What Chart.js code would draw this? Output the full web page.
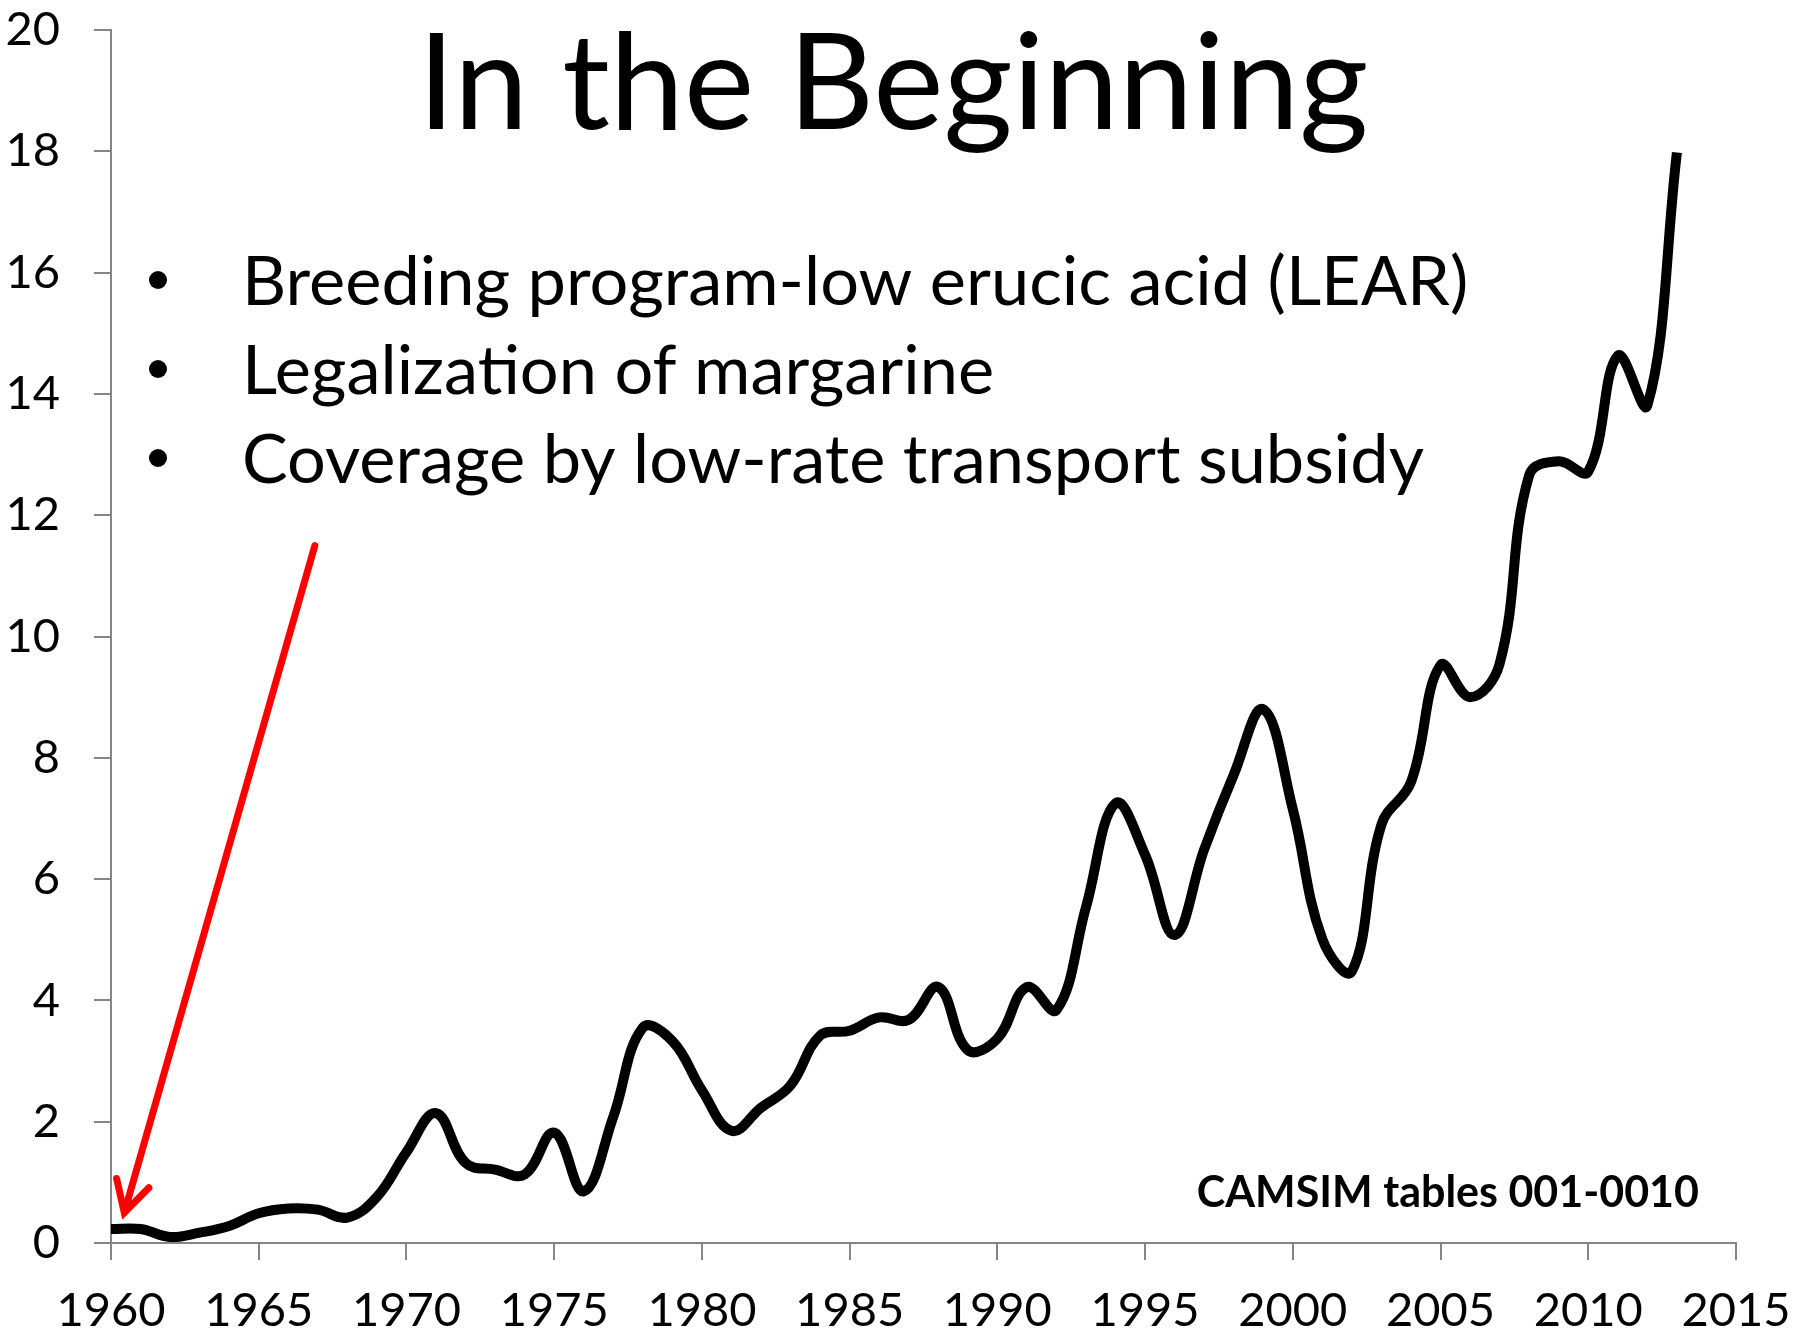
<!DOCTYPE html>
<html>
<head>
<meta charset="utf-8">
<script src="https://cdn.jsdelivr.net/npm/chart.js@4.4.1/dist/chart.umd.min.js"></script>
<style>
  html, body { margin: 0; padding: 0; background: #fff; }
  #wrap { width: 1798px; height: 1334px; }
</style>
</head>
<body>
<div id="wrap"><canvas id="chart" width="1798" height="1334"></canvas></div>
<script>
// data
var years = [1960, 1961, 1962, 1963, 1964, 1965, 1966, 1967, 1968, 1969,
             1970, 1971, 1972, 1973, 1974, 1975, 1976, 1977, 1978, 1979,
             1980, 1981, 1982, 1983, 1984, 1985, 1986, 1987, 1988, 1989,
             1990, 1991, 1992, 1993, 1994, 1995, 1996, 1997, 1998, 1999,
             2000, 2001, 2002, 2003, 2004, 2005, 2006, 2007, 2008, 2009,
             2010, 2011, 2012, 2013];
var values = [0.23, 0.23, 0.1, 0.17, 0.28, 0.49, 0.57, 0.55, 0.42, 0.76,
              1.5, 2.14, 1.32, 1.21, 1.13, 1.82, 0.85, 2.08, 3.55, 3.33,
              2.52, 1.85, 2.23, 2.6, 3.42, 3.5, 3.72, 3.68, 4.22, 3.18,
              3.37, 4.22, 3.84, 5.54, 7.25, 6.4, 5.08, 6.49, 7.72, 8.8,
              7.15, 5.01, 4.48, 6.9, 7.6, 9.53, 9.0, 9.55, 12.66, 12.89,
              12.72, 14.63, 13.81, 17.98];

var xTicks = [1960, 1965, 1970, 1975, 1980, 1985, 1990, 1995, 2000, 2005, 2010, 2015];
var yTicks = [0, 2, 4, 6, 8, 10, 12, 14, 16, 18, 20];

var titleText = 'In the Beginning';
var bullets = [
    'Breeding program-low erucic acid (LEAR)',
    'Legalization of margarine',
    'Coverage by low-rate transport subsidy'
];
var sourceText = 'CAMSIM tables 001-0010';

// arrow tail and head, in data units (year, value)
var arrowFrom = [1966.9, 11.5];
var arrowTo = [1960.45, 0.5];

var FONT = 'Lato, "Open Sans", sans-serif';
var axisGray = '#868686';

var points = years.map(function (y, i) { return { x: y, y: values[i] }; });

// text and the red arrow
var overlay = {
    id: 'overlay',
    afterDatasetsDraw: function (chart) {
        var ctx = chart.ctx;
        var xs = chart.scales.x, ys = chart.scales.y;
        ctx.save();

        ctx.fillStyle = '#000';
        ctx.textBaseline = 'alphabetic';
        ctx.textAlign = 'center';
        ctx.font = '133px ' + FONT;
        ctx.fillText(titleText, 893, 129);

        ctx.font = '68.5px ' + FONT;
        ctx.textAlign = 'left';
        bullets.forEach(function (b, i) {
            var base = 305 + i * 89;
            ctx.beginPath();
            ctx.arc(158, base - 25, 9, 0, Math.PI * 2);
            ctx.fill();
            ctx.fillText(b, 242, base);
        });

        ctx.font = 'bold 43px ' + FONT;
        ctx.textAlign = 'right';
        ctx.fillText(sourceText, 1699, 1207);

        // arrow
        var x1 = xs.getPixelForValue(arrowFrom[0]), y1 = ys.getPixelForValue(arrowFrom[1]);
        var x2 = xs.getPixelForValue(arrowTo[0]), y2 = ys.getPixelForValue(arrowTo[1]);
        var ang = Math.atan2(y2 - y1, x2 - x1);
        var len = 35, spread = 0.5;
        ctx.strokeStyle = '#ff0000';
        ctx.lineWidth = 7;
        ctx.lineCap = 'round';
        ctx.lineJoin = 'miter';
        ctx.beginPath();
        ctx.moveTo(x1, y1);
        ctx.lineTo(x2, y2);
        ctx.moveTo(x2 - len * Math.cos(ang - spread), y2 - len * Math.sin(ang - spread));
        ctx.lineTo(x2, y2);
        ctx.lineTo(x2 - len * Math.cos(ang + spread), y2 - len * Math.sin(ang + spread));
        ctx.stroke();

        ctx.restore();
    }
};

var ctx = document.getElementById('chart').getContext('2d');
var myChart = new Chart(ctx, {
    type: 'line',
    data: {
        datasets: [{
            data: points,
            borderColor: '#000',
            borderWidth: 10,
            pointRadius: 0,
            tension: 0.4,
            fill: false,
            borderCapStyle: 'butt'
        }]
    },
    options: {
        responsive: false,
        animation: false,
        layout: { padding: { top: 30, right: 62, left: 0, bottom: 0 } },
        plugins: {
            legend: { display: false },
            tooltip: { enabled: false }
        },
        scales: {
            x: {
                type: 'linear',
                min: 1960,
                max: 2015,
                afterBuildTicks: function (scale) {
                    scale.ticks = xTicks.map(function (v) { return { value: v }; });
                },
                afterFit: function (scale) {
                    scale.height = 91;
                    // labels may overhang, keep the plot edges fixed
                    scale.paddingLeft = 0;
                    scale.paddingRight = 0;
                },
                ticks: {
                    color: '#000',
                    font: { family: FONT, size: 47 },
                    padding: 23,
                    maxRotation: 0,
                    autoSkip: false,
                    callback: function (v) { return String(v); }
                },
                grid: {
                    drawOnChartArea: false,
                    drawTicks: true,
                    tickLength: 17,
                    tickColor: axisGray,
                    lineWidth: 2
                },
                border: { color: axisGray, width: 2 }
            },
            y: {
                min: 0,
                max: 20,
                afterBuildTicks: function (scale) {
                    scale.ticks = yTicks.map(function (v) { return { value: v }; });
                },
                afterFit: function (scale) {
                    scale.width = 111;
                    scale.paddingTop = 0;
                    scale.paddingBottom = 0;
                },
                ticks: {
                    color: '#000',
                    font: { family: FONT, size: 47 },
                    padding: 34,
                    autoSkip: false
                },
                grid: {
                    drawOnChartArea: false,
                    drawTicks: true,
                    tickLength: 17,
                    tickColor: axisGray,
                    lineWidth: 2
                },
                border: { color: axisGray, width: 2 }
            }
        }
    },
    plugins: [overlay]
});
</script>
</body>
</html>
